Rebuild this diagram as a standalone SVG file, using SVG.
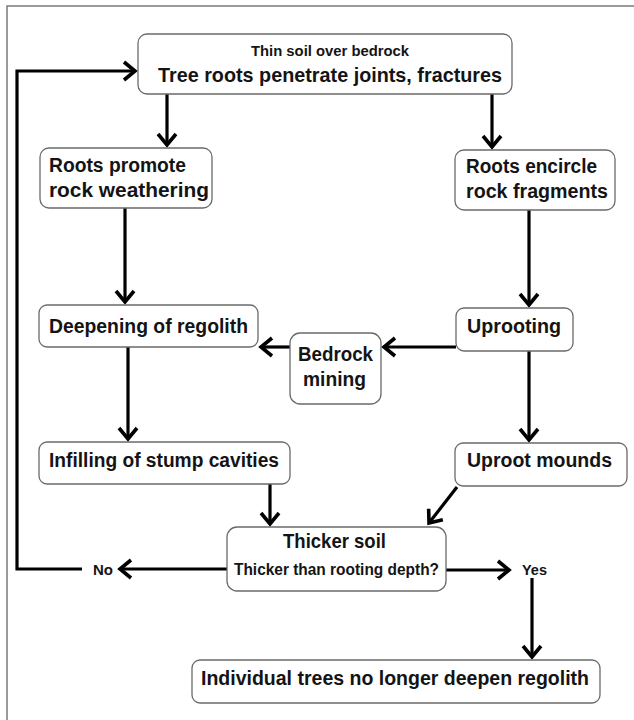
<svg xmlns="http://www.w3.org/2000/svg" width="634" height="720" viewBox="0 0 634 720">
<style>
.box{fill:#fff;stroke:#6a6a6a;stroke-width:1.3}
.t{font-family:"Liberation Sans",Arial,sans-serif;font-weight:bold;fill:#141414}
.c{fill:none;stroke:#000;stroke-width:3.2;stroke-linejoin:miter}
</style>
<defs>
<marker id="ah" markerUnits="userSpaceOnUse" markerWidth="26" markerHeight="26" viewBox="-15 -13 18 26" refX="0" refY="0" orient="auto">
<path d="M-11,-9 L0,0 L-11,9" fill="none" stroke="#000" stroke-width="3.6" stroke-linejoin="miter"/>
</marker>
</defs>
<rect width="634" height="720" fill="#fff"/>
<rect x="7" y="6" width="700" height="800" fill="none" stroke="#7a7a7a" stroke-width="1.5"/>

<g id="connectors">
<line class="c" x1="167" y1="94" x2="167" y2="145" marker-end="url(#ah)"/>
<line class="c" x1="492" y1="94" x2="492" y2="147" marker-end="url(#ah)"/>
<line class="c" x1="125" y1="208" x2="125" y2="302" marker-end="url(#ah)"/>
<line class="c" x1="529" y1="210" x2="529" y2="305" marker-end="url(#ah)"/>
<line class="c" x1="456" y1="347" x2="384" y2="347" marker-end="url(#ah)"/>
<line class="c" x1="290" y1="347" x2="261" y2="347" marker-end="url(#ah)"/>
<line class="c" x1="128" y1="347" x2="128" y2="439" marker-end="url(#ah)"/>
<line class="c" x1="529" y1="351" x2="529" y2="440" marker-end="url(#ah)"/>
<line class="c" x1="270" y1="484" x2="270" y2="524" marker-end="url(#ah)"/>
<line class="c" x1="457" y1="487" x2="429" y2="523" marker-end="url(#ah)"/>
<line class="c" x1="227" y1="569" x2="120" y2="569" marker-end="url(#ah)"/>
<polyline class="c" points="82,569 17,569 17,71 135,71" marker-end="url(#ah)"/>
<line class="c" x1="446" y1="570" x2="509" y2="570" marker-end="url(#ah)"/>
<line class="c" x1="532" y1="578" x2="532" y2="657" marker-end="url(#ah)"/>
<text class="t" x="93" y="575" font-size="15" textLength="20" lengthAdjust="spacingAndGlyphs">No</text>
<text class="t" x="522" y="575" font-size="15" textLength="25" lengthAdjust="spacingAndGlyphs">Yes</text>
</g>

<g id="n-top">
<rect class="box" x="138" y="34" width="374" height="60" rx="9"/>
<text class="t" x="251" y="56" font-size="14" textLength="158" lengthAdjust="spacingAndGlyphs">Thin soil over bedrock</text>
<text class="t" x="158" y="82" font-size="21" textLength="344" lengthAdjust="spacingAndGlyphs">Tree roots penetrate joints, fractures</text>
</g>

<g id="n-promote">
<rect class="box" x="40" y="148" width="172" height="60" rx="9"/>
<text class="t" x="49" y="172" font-size="20" textLength="137" lengthAdjust="spacingAndGlyphs">Roots promote</text>
<text class="t" x="49" y="197" font-size="20" textLength="160" lengthAdjust="spacingAndGlyphs">rock weathering</text>
</g>

<g id="n-encircle">
<rect class="box" x="455" y="150" width="160" height="60" rx="9"/>
<text class="t" x="466" y="173" font-size="20" textLength="131" lengthAdjust="spacingAndGlyphs">Roots encircle</text>
<text class="t" x="466" y="198" font-size="20" textLength="142" lengthAdjust="spacingAndGlyphs">rock fragments</text>
</g>

<g id="n-deepening">
<rect class="box" x="39" y="305" width="219" height="42" rx="8"/>
<text class="t" x="49" y="333" font-size="20" textLength="199" lengthAdjust="spacingAndGlyphs">Deepening of regolith</text>
</g>

<g id="n-uprooting">
<rect class="box" x="456" y="308" width="117" height="43" rx="8"/>
<text class="t" x="467" y="333" font-size="20" textLength="94" lengthAdjust="spacingAndGlyphs">Uprooting</text>
</g>

<g id="n-bedrock">
<rect class="box" x="290" y="333" width="91" height="71" rx="10"/>
<text class="t" x="298" y="361" font-size="20" textLength="75" lengthAdjust="spacingAndGlyphs">Bedrock</text>
<text class="t" x="303" y="386" font-size="20" textLength="63" lengthAdjust="spacingAndGlyphs">mining</text>
</g>

<g id="n-infilling">
<rect class="box" x="39" y="442" width="251" height="42" rx="8"/>
<text class="t" x="49" y="467" font-size="20" textLength="230" lengthAdjust="spacingAndGlyphs">Infilling of stump cavities</text>
</g>

<g id="n-mounds">
<rect class="box" x="455" y="443" width="172" height="43" rx="8"/>
<text class="t" x="467" y="467" font-size="20" textLength="145" lengthAdjust="spacingAndGlyphs">Uproot mounds</text>
</g>

<g id="n-thicker">
<rect class="box" x="227" y="527" width="219" height="64" rx="10"/>
<text class="t" x="283" y="548" font-size="21" textLength="103" lengthAdjust="spacingAndGlyphs">Thicker soil</text>
<text class="t" x="234" y="575" font-size="16" textLength="205" lengthAdjust="spacingAndGlyphs">Thicker than rooting depth?</text>
</g>

<g id="n-final">
<rect class="box" x="192" y="660" width="408" height="43" rx="8"/>
<text class="t" x="201" y="685" font-size="20" textLength="388" lengthAdjust="spacingAndGlyphs">Individual trees no longer deepen regolith</text>
</g>
</svg>
